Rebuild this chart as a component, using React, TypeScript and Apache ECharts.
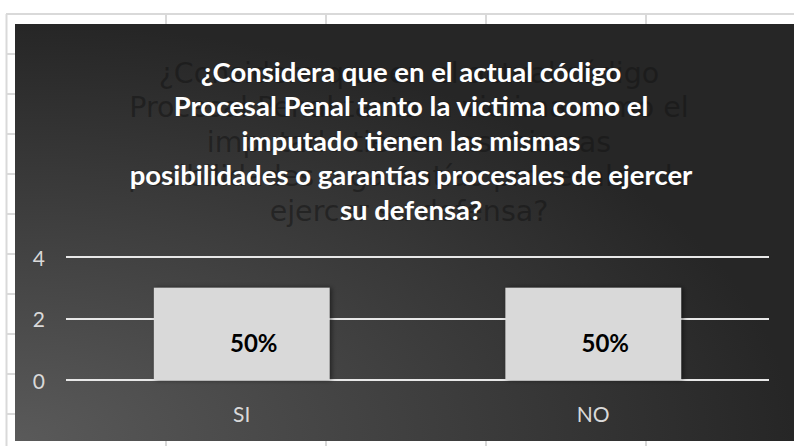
import React, { useEffect, useRef } from "react";
import * as echarts from "echarts";

const categories = ["SI", "NO"];
const values = [3, 3];
const percentLabels = ["50%", "50%"];
const yMin = 0;
const yMax = 4;
const yInterval = 2;

const titleLines = [
  "¿Considera que en el actual código",
  "Procesal Penal tanto la victima como el",
  "imputado tienen las mismas",
  "posibilidades o garantías procesales de ejercer",
  "su defensa?",
];
const ghostLines = [
  "¿Considera que en el actual código",
  "Procesal Penal tanto la victima como el",
  "imputado tienen las mismas",
  "posibilidades o garantías procesales de",
  "ejercer su defensa?",
];

const W = 794;
const H = 446;

function sheetLines() {
  const els: any[] = [];
  const lineStyle = { stroke: "#d9d9d9", lineWidth: 2 };
  const xs = [6.5, 166, 326, 486, 646];
  xs.forEach((x) =>
    els.push({ type: "line", z: -20, shape: { x1: x, y1: 14, x2: x, y2: H }, style: lineStyle })
  );
  for (let y = 14; y < H; y += 40) {
    els.push({ type: "line", z: -20, shape: { x1: 6, y1: y, x2: W, y2: y }, style: lineStyle });
  }
  return els;
}

export default function App() {
  const ref = useRef<HTMLDivElement>(null);
  useEffect(() => {
    if (!ref.current) return;
    const chart = echarts.init(ref.current, null, { renderer: "svg", width: W, height: H });
    const panel = { x: 15, y: 24, width: W - 15, height: 417 };
    chart.setOption({
      animation: false,
      backgroundColor: "#ffffff",
      title: [
        {
          text: ghostLines.join("\n"),
          left: 404,
          top: 51,
          textAlign: "center",
          textStyle: {
            color: "#141414",
            opacity: 0.55,
            fontFamily: "DejaVu Sans",
            fontWeight: "normal",
            fontSize: 28.5,
            lineHeight: 34.5,
          },
        },
        {
          text: titleLines.join("\n"),
          left: 406,
          top: 49,
          textAlign: "center",
          textStyle: {
            color: "#ffffff",
            fontFamily: "Lato",
            fontWeight: "bold",
            fontSize: 27.5,
            lineHeight: 34.5,
          },
        },
      ],
      graphic: [
        ...sheetLines(),
        {
          type: "rect",
          z: -10,
          shape: panel,
          style: {
            fill: new echarts.graphic.RadialGradient(0, 1, 1, [
              { offset: 0, color: "#5a5a5a" },
              { offset: 1, color: "#262626" },
            ]),
          },
        },
      ],
      grid: { left: 66, right: 25, top: 257, bottom: 66 },
      xAxis: {
        type: "category",
        data: categories,
        axisLine: { show: false },
        axisTick: { show: false },
        axisLabel: { color: "#d9d9d9", fontFamily: "Lato", fontSize: 21, margin: 23 },
      },
      yAxis: {
        type: "value",
        min: yMin,
        max: yMax,
        interval: yInterval,
        axisLine: { show: false },
        axisTick: { show: false },
        axisLabel: { color: "#d9d9d9", fontFamily: "Lato", fontSize: 21, margin: 21 },
        splitLine: { lineStyle: { color: "#e8e8e8", width: 2 } },
      },
      series: [
        {
          type: "bar",
          data: values,
          barCategoryGap: "50%",
          itemStyle: {
            color: "#d9d9d9",
            shadowColor: "rgba(0,0,0,0.5)",
            shadowBlur: 5,
            shadowOffsetX: 2,
            shadowOffsetY: 0,
          },
          label: {
            show: true,
            position: "inside",
            offset: [12, 9],
            formatter: (p: any) => percentLabels[p.dataIndex],
            color: "#000000",
            fontFamily: "Lato",
            fontWeight: "bold",
            fontSize: 24,
          },
        },
      ],
    });
    return () => chart.dispose();
  }, []);
  return (
    <div
      ref={ref}
      style={{ position: "fixed", left: 0, top: 0, width: W, height: H }}
    />
  );
}
